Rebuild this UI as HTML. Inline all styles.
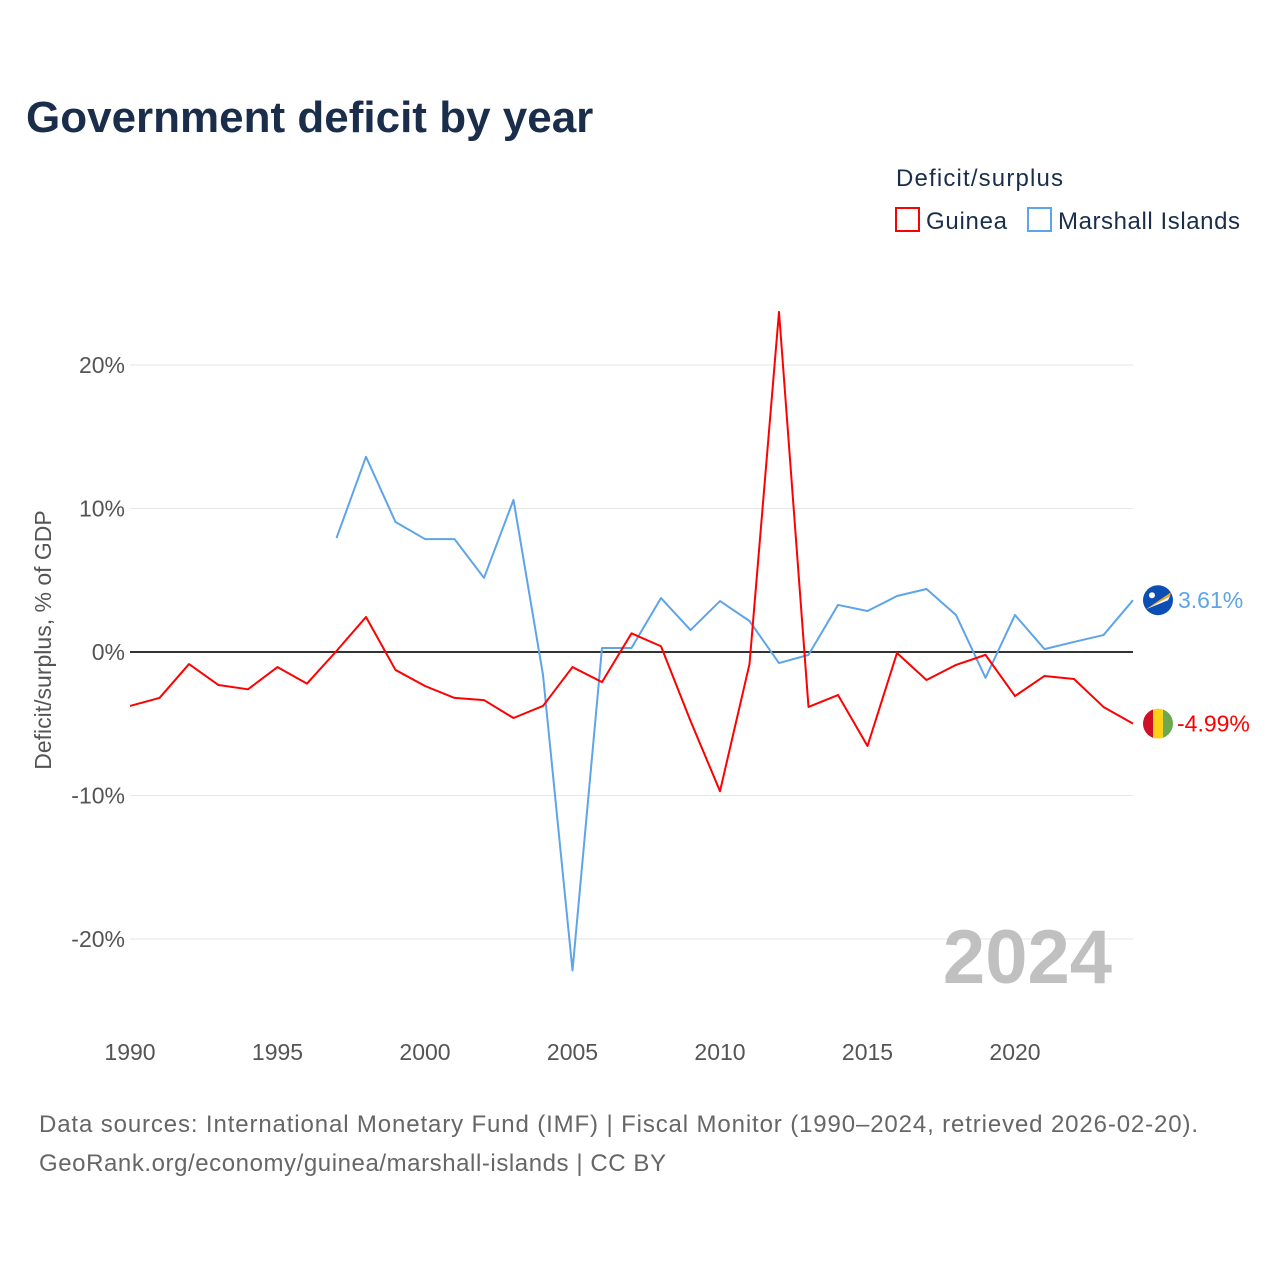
<!DOCTYPE html>
<html><head><meta charset="utf-8">
<style>
body{margin:0;background:#fff;font-family:"Liberation Sans",sans-serif;}
svg text{font-family:"Liberation Sans",sans-serif;}
</style></head>
<body>
<svg id="chart" width="1280" height="1280" viewBox="0 0 1280 1280" xmlns="http://www.w3.org/2000/svg">
<rect width="1280" height="1280" fill="#fff"/>
<text x="26" y="132" font-size="44" font-weight="bold" fill="#1a2e4c">Government deficit by year</text>
<text x="896" y="186" font-size="24" fill="#1a2e4c" textLength="167">Deficit/surplus</text>
<g>
<rect x="896" y="208" width="23" height="23" fill="none" stroke="#ff0000" stroke-width="2"/>
<text x="926" y="229" font-size="24" fill="#1a2e4c" textLength="81">Guinea</text></g>
<g>
<rect x="1028" y="208" width="23" height="23" fill="none" stroke="#5ea4e8" stroke-width="2"/>
<text x="1058" y="229" font-size="24" fill="#1a2e4c" textLength="182">Marshall Islands</text></g>
<text transform="translate(51,640) rotate(-90)" text-anchor="middle" font-size="23" fill="#555">Deficit/surplus, % of GDP</text>
<g id="grid"></g>
<g id="yticks"></g>
<g id="xticks"></g>
<text x="1112" y="983" text-anchor="end" font-size="76" font-weight="bold" fill="#c0c0c0">2024</text>
<g id="series"></g>
<text x="39" y="1132" font-size="24" fill="#666" textLength="1159">Data sources: International Monetary Fund (IMF) | Fiscal Monitor (1990–2024, retrieved 2026-02-20).</text>
<text x="39" y="1171" font-size="24" fill="#666" textLength="627">GeoRank.org/economy/guinea/marshall-islands | CC BY</text>
</svg>
<script>
const guineaYears = [1990,1991,1992,1993,1994,1995,1996,1997,1998,1999,2000,2001,2002,2003,2004,2005,2006,2007,2008,2009,2010,2011,2012,2013,2014,2015,2016,2017,2018,2019,2020,2021,2022,2023,2024];
const guineaValues = [-3.76,-3.2,-0.84,-2.3,-2.6,-1.05,-2.2,0.07,2.44,-1.25,-2.37,-3.2,-3.35,-4.6,-3.76,-1.05,-2.1,1.3,0.4,-4.8,-9.7,-0.84,23.7,-3.83,-3.0,-6.55,-0.07,-1.95,-0.9,-0.2,-3.07,-1.67,-1.88,-3.83,-4.99];
const marshallYears = [1997,1998,1999,2000,2001,2002,2003,2004,2005,2006,2007,2008,2009,2010,2011,2012,2013,2014,2015,2016,2017,2018,2019,2020,2021,2022,2023,2024];
const marshallValues = [7.94,13.6,9.06,7.87,7.87,5.16,10.6,-1.6,-22.2,0.28,0.28,3.76,1.53,3.55,2.16,-0.77,-0.2,3.28,2.86,3.9,4.39,2.58,-1.8,2.58,0.2,0.7,1.18,3.61];
const yTicks = [20,10,0,-10,-20];
const yTickLabels = ["20%","10%","0%","-10%","-20%"];
const xTicks = [1990,1995,2000,2005,2010,2015,2020];

const NS="http://www.w3.org/2000/svg";
const x = yr => 130 + (yr-1990)*(1133-130)/34;
const y = v => 652 - v*14.35;
function el(tag, attrs, parent){const e=document.createElementNS(NS,tag);for(const k in attrs)e.setAttribute(k,attrs[k]);parent.appendChild(e);return e;}
const grid=document.getElementById('grid'), yt=document.getElementById('yticks'), xt=document.getElementById('xticks'), ser=document.getElementById('series');
yTicks.forEach((v,i)=>{
  if(v!==0){const g=el('line',{x1:130,x2:1133,y1:y(v),y2:y(v),stroke:'#e6e6e6','stroke-width':1},grid);
  
  }
  const t=el('text',{x:125,y:y(v)+8,'text-anchor':'end','font-size':23,fill:'#555'},yt);
  t.textContent=yTickLabels[i];
  
  
});
xTicks.forEach(yr=>{
  const t=el('text',{x:x(yr),y:1060,'text-anchor':'middle','font-size':23,fill:'#555'},xt);
  t.textContent=yr;
  
  
});
const zl=el('line',{x1:130,x2:1133,y1:y(0),y2:y(0),stroke:'#333','stroke-width':2},grid);


function line(years,vals,color,name){
  const p=el('polyline',{points:years.map((yr,i)=>x(yr)+','+y(vals[i])).join(' '),fill:'none',stroke:color,'stroke-width':2,'stroke-linejoin':'round'},ser);
  
  
}
line(marshallYears,marshallValues,'#5ea4e8','marshall-islands-line');
line(guineaYears,guineaValues,'#ff0000','guinea-line');
const mv=marshallValues[marshallValues.length-1], gv=guineaValues[guineaValues.length-1];
const mx=x(2024)+25;
const mc=el('g',{},ser);


el('circle',{cx:mx,cy:y(mv),r:15,fill:'#0b4fb5'},mc);
el('path',{d:`M${mx-12} ${y(mv)+9} L${mx+13} ${y(mv)-8} L${mx+12} ${y(mv)-4} Z`,fill:'#f5a623'},mc);
el('path',{d:`M${mx-12} ${y(mv)+9} L${mx+12} ${y(mv)-4} L${mx+10} ${y(mv)} Z`,fill:'#fff'},mc);
el('circle',{cx:mx-6,cy:y(mv)-5,r:3,fill:'#fff'},mc);
const ml=el('text',{x:mx+20,y:y(mv)+8,'font-size':23,fill:'#5ea4e8'},ser);
ml.textContent=mv.toFixed(2)+'%';


const gc=el('g',{},ser);


const cy=y(gv);
const cp=el('clipPath',{id:'gclip'},gc);
el('circle',{cx:mx,cy:cy,r:15},cp);
const gg=el('g',{'clip-path':'url(#gclip)'},gc);
el('rect',{x:mx-15,y:cy-15,width:10,height:30,fill:'#ce1126'},gg);
el('rect',{x:mx-5,y:cy-15,width:10,height:30,fill:'#fcd116'},gg);
el('rect',{x:mx+5,y:cy-15,width:10,height:30,fill:'#6ba84f'},gg);
const gl=el('text',{x:mx+19,y:cy+8,'font-size':23,fill:'#ff0000'},ser);
gl.textContent=gv.toFixed(2)+'%';


</script>
</body></html>
